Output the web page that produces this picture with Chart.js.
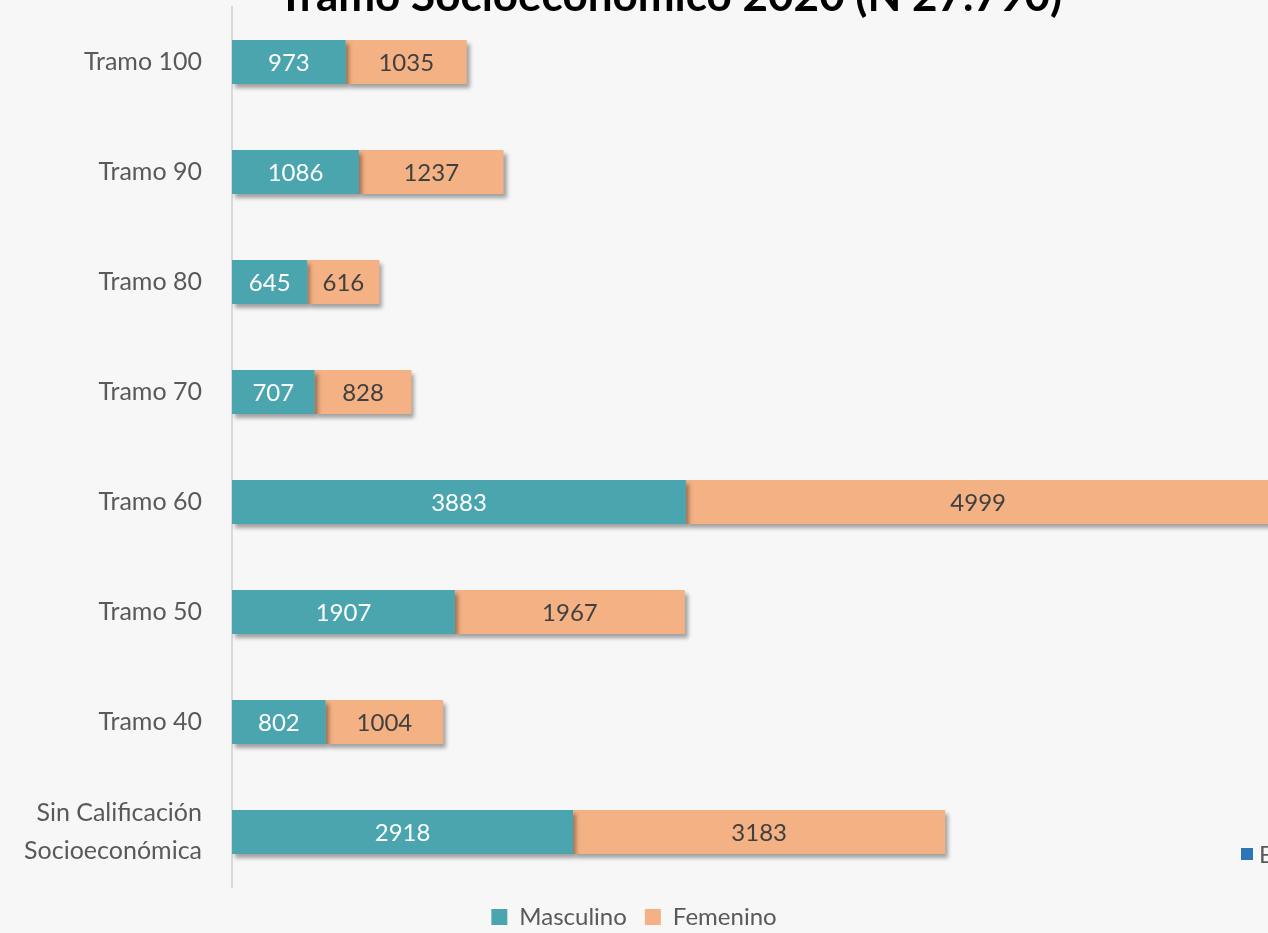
<!DOCTYPE html>
<html>
<head>
<meta charset="utf-8">
<script src="https://cdn.jsdelivr.net/npm/chart.js@4.4.1/dist/chart.umd.min.js"></script>
<style>
  html, body { margin: 0; padding: 0; background: #f7f7f7; overflow: hidden; }
  #wrap { width: 1268px; height: 933px; position: relative; }
</style>
</head>
<body>
<div id="wrap"><canvas id="grafico"></canvas></div>
<script>
const tramos = ["Tramo 100", "Tramo 90", "Tramo 80", "Tramo 70", "Tramo 60", "Tramo 50", "Tramo 40", ["Sin Calificación", "Socioeconómica"]];
const masculino = [973, 1086, 645, 707, 3883, 1907, 802, 2918];
const femenino = [1035, 1237, 616, 828, 4999, 1967, 1004, 3183];
const titulo = "Tramo Socioeconómico 2020 (N 27.790)";

const fuente = "Lato, 'Open Sans', sans-serif";

// titulo cortado arriba, como en la imagen
const tituloPlugin = {
    id: "tituloCortado",
    afterDraw(chart) {
        const ctx = chart.ctx;
        ctx.save();
        ctx.font = "bold 44px " + fuente;
        ctx.fillStyle = "#000";
        ctx.textAlign = "center";
        ctx.textBaseline = "alphabetic";
        ctx.fillText(titulo, 670, 11);
        // resto de leyenda de otro grafico
        ctx.fillStyle = "#2e75b6";
        ctx.fillRect(1241, 848, 12, 12);
        ctx.fillStyle = "#595959";
        ctx.font = "24px " + fuente;
        ctx.textAlign = "left";
        ctx.fillText("E", 1259, 863);
        ctx.restore();
    }
};

const sombraPlugin = {
    id: "sombra",
    beforeDatasetsDraw(chart) {
        const ctx = chart.ctx;
        ctx.save();
        ctx.shadowColor = "rgba(0,0,0,0.35)";
        ctx.shadowBlur = 4;
        ctx.shadowOffsetX = 3;
        ctx.shadowOffsetY = 4;
    },
    afterDatasetsDraw(chart) {
        chart.ctx.restore();
    }
};

const etiquetasPlugin = {
    id: "etiquetas",
    afterDatasetsDraw(chart) {
        const ctx = chart.ctx;
        const colores = ["#ffffff", "#404040"];
        ctx.save();
        ctx.font = "24px " + fuente;
        ctx.textAlign = "center";
        ctx.textBaseline = "middle";
        chart.data.datasets.forEach((ds, i) => {
            const meta = chart.getDatasetMeta(i);
            ctx.fillStyle = colores[i];
            meta.data.forEach((barra, j) => {
                const p = barra.getProps(["x", "y", "base"], true);
                ctx.fillText(ds.data[j], (p.x + p.base) / 2, p.y + 1);
            });
        });
        ctx.restore();
    }
};

new Chart(document.getElementById("grafico"), {
    type: "bar",
    data: {
        labels: tramos,
        datasets: [
            {
                label: "Masculino",
                data: masculino,
                backgroundColor: "#4aa5ae",
                borderWidth: 0,
                barPercentage: 0.8,
                categoryPercentage: 0.5,
            },
            {
                label: "Femenino",
                data: femenino,
                backgroundColor: "#f4b183",
                borderWidth: 0,
                barPercentage: 0.8,
                categoryPercentage: 0.5,
            },
        ],
    },
    options: {
        indexAxis: "y",
        responsive: true,
        maintainAspectRatio: false,
        animation: false,
        layout: { padding: { top: 7, right: 0, left: 0, bottom: -6 } },
        plugins: {
            title: { display: false },
            tooltip: { enabled: false },
            legend: {
                position: "bottom",
                labels: {
                    color: "#595959",
                    font: { family: fuente, size: 24 },
                    boxWidth: 16,
                    boxHeight: 16,
                    padding: 18,
                },
            },
        },
        scales: {
            x: {
                stacked: true,
                display: false,
                min: 0,
                max: 8862,
            },
            y: {
                stacked: true,
                grid: { display: false },
                border: { display: true, color: "#d9d9d9", width: 2 },
                ticks: {
                    color: "#595959",
                    font: { family: fuente, size: 25, lineHeight: 1.5 },
                    padding: 22,
                },
                afterFit(escala) {
                    escala.width = 232;
                    escala.paddingTop = 0;
                    escala.paddingBottom = 0;
                },
            },
        },
    },
    plugins: [sombraPlugin, etiquetasPlugin, tituloPlugin],
});
</script>
</body>
</html>
